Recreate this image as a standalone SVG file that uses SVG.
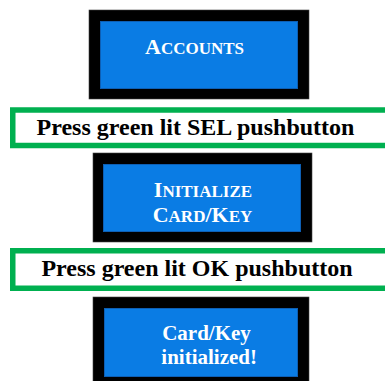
<svg xmlns="http://www.w3.org/2000/svg" width="385" height="381" viewBox="0 0 385 381">
<style>
.frame{fill:#000;stroke:#444;stroke-width:0.6}
.panel{fill:#0A7CE4;stroke:#0E5FB4;stroke-width:1}
.ptxt{font-family:"Liberation Serif","Times New Roman",serif;font-weight:bold;fill:#fff;text-anchor:middle}
.note{fill:#fff;stroke:#00B050;stroke-width:5.5}
.ntxt{font-family:"Liberation Serif","Times New Roman",serif;font-weight:bold;font-size:24px;fill:#000;text-anchor:middle}
</style>
<rect width="385" height="381" fill="#fff"/>
<g id="connectors"/>
<g id="accounts">
<rect class="frame" x="89" y="10" width="220" height="89"/>
<rect class="panel" x="100.5" y="21.5" width="197" height="67"/>
<text class="ptxt" x="194.5" y="54"><tspan font-size="22">A</tspan><tspan font-size="17">CCOUNTS</tspan></text>
</g>
<g id="press-sel">
<rect class="note" x="12.75" y="110" width="380" height="35.5"/>
<text class="ntxt" x="195.5" y="135">Press green lit SEL pushbutton</text>
</g>
<g id="initialize">
<rect class="frame" x="93" y="153" width="219" height="89"/>
<rect class="panel" x="103.5" y="164.5" width="197" height="67"/>
<text class="ptxt" x="203" y="197.3"><tspan font-size="22">I</tspan><tspan font-size="17">NITIALIZE</tspan></text>
<text class="ptxt" x="202.5" y="222.3"><tspan font-size="22">C</tspan><tspan font-size="17">ARD</tspan><tspan font-size="22">/K</tspan><tspan font-size="17">EY</tspan></text>
</g>
<g id="press-ok">
<rect class="note" x="12.75" y="250.75" width="380" height="37.5"/>
<text class="ntxt" x="197" y="276">Press green lit OK pushbutton</text>
</g>
<g id="initialized">
<rect class="frame" x="93" y="297" width="216" height="92"/>
<rect class="panel" x="104.5" y="308.5" width="193" height="68"/>
<text class="ptxt" font-size="21" x="206.5" y="340">Card/Key</text>
<text class="ptxt" font-size="21" x="209.2" y="364">initialized!</text>
</g>
</svg>
